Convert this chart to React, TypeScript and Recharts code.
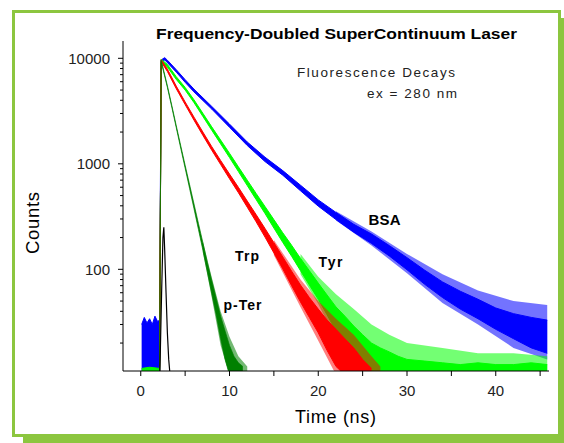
import { Area, ComposedChart, Line, XAxis, YAxis } from "recharts";

const FRAME = "#8cc63f";
const FONT = '"Liberation Sans", Arial, Helvetica, sans-serif';

// axis ticks
const X_TICKS = [0, 5, 10, 15, 20, 25, 30, 35, 40, 45];
const X_LABELED = [0, 10, 20, 30, 40];
const Y_TICKS = [
  20, 30, 40, 50, 60, 70, 80, 90, 100, 200, 300, 400, 500, 600, 700, 800, 900, 1000,
  2000, 3000, 4000, 5000, 6000, 7000, 8000, 9000, 10000,
];
const Y_LABELED = [100, 1000, 10000];

// BSA (blue) - dense part of the noisy trace, low/high edge
const BSA_T = [0.1, 0.4, 0.7, 1.0, 1.3, 1.6, 1.9, 2.12, 2.3, 2.7, 3, 4, 5, 6, 8, 10, 12, 14, 16, 18, 20, 22, 24, 26, 28, 30, 32, 34, 36, 38, 40, 42, 44, 45.8];
const BSA_LO = [10, 10, 10, 10, 10, 10, 10, 10, 9150, 9650, 9100, 7400, 5920, 4800, 3300, 2220, 1490, 1050, 780, 555, 397, 296, 225, 176, 134, 99, 72, 54, 42, 34, 27, 22, 18, 16];
const BSA_HI = [30, 35, 31, 34, 30, 36, 32, 33, 9650, 10150, 9600, 7800, 6280, 5100, 3500, 2380, 1610, 1155, 862, 627, 455, 346, 267, 216, 168, 129, 98, 76, 62, 52, 43, 38, 35, 33];
// BSA spikes (outer envelope of the noise)
const BSA_SPIKE_T = [22, 26, 30, 34, 38, 42, 45.8];
const BSA_SPIKE_LO = [290, 168, 92, 48, 30, 18, 14];
const BSA_SPIKE_HI = [355, 228, 140, 90, 63, 50, 46];

// Tyr (green)
const TYR_T = [0.1, 1.0, 2.12, 2.3, 3, 4, 5, 6, 7, 8, 9, 10, 11, 12, 13, 14, 15, 16, 17, 18, 19, 20, 21, 22, 23, 24, 25, 26, 27, 28, 29, 30, 32, 34, 36, 38, 40, 42, 44, 45.8];
const TYR_LO = [10, 10, 10, 9400, 8250, 6310, 5000, 3800, 2810, 2080, 1545, 1145, 845, 622, 458, 338, 246, 180, 133, 97, 71, 52, 37, 26, 19, 14, 11, 10, 10, 10, 10, 10, 10, 10, 10, 10, 10, 10, 10, 10];
const TYR_HI = [11.5, 11.8, 11.5, 9800, 8750, 6690, 5300, 4040, 3010, 2240, 1680, 1258, 937, 700, 524, 394, 296, 222, 169, 127, 97, 74, 57, 44, 36, 29, 24, 20, 18, 16.5, 15, 14, 13.5, 13, 12.5, 13, 12.5, 12.5, 13, 12.5];
const TYR_SPIKE_T = [18, 20, 22, 24, 26, 28, 30, 34, 38, 42, 45.8];
const TYR_SPIKE_LO = [90, 47, 22, 11, 10, 10, 10, 10, 10, 10, 10];
const TYR_SPIKE_HI = [140, 85, 58, 42, 30, 24, 20, 18, 16, 16, 15];

// Trp (red)
const TRP_T = [2.12, 2.3, 3, 4, 5, 6, 7, 8, 9, 10, 11, 12, 13, 14, 15, 16, 17, 18, 19, 20, 21, 22, 23, 24, 25, 26];
const TRP_LO = [10, 9300, 7500, 5150, 3640, 2590, 1860, 1345, 985, 722, 533, 388, 282, 202, 143, 101, 70, 49, 35, 25, 17, 12, 10, 10, 10, 10];
const TRP_HI = [12, 9700, 7900, 5450, 3860, 2770, 2000, 1455, 1075, 800, 599, 444, 330, 244, 179, 131, 96, 71, 54, 42, 33, 27, 22, 18, 14, 11.5];
const TRP_SPIKE_T = [15, 18, 20, 22, 24, 26, 27];
const TRP_SPIKE_LO = [136, 44, 21, 10, 10, 10, 10];
const TRP_SPIKE_HI = [190, 80, 50, 34, 24, 15, 12];

// p-Ter (dark green)
const PTER_T = [2.12, 2.3, 3, 3.5, 4, 4.5, 5, 5.5, 6, 6.5, 7, 7.5, 8, 8.5, 9, 9.5, 10, 10.5, 11, 11.5];
const PTER_LO = [10, 9300, 5300, 3430, 2200, 1410, 910, 585, 375, 239, 152, 95, 59, 37, 22, 14, 10, 10, 10, 10];
const PTER_HI = [12, 9600, 5500, 3570, 2300, 1490, 970, 636, 416, 272, 179, 116, 78, 53, 36, 26, 19, 15, 13, 12];
const PTER_SPIKE_T = [7, 8, 9, 10, 11, 12];
const PTER_SPIKE_LO = [145, 54, 19, 10, 10, 10];
const PTER_SPIKE_HI = [185, 84, 40, 23, 15, 12];

// instrument response (black)
const IRF_T = [2.15, 2.35, 2.5, 2.6, 2.7, 2.85, 3.0, 3.15, 3.3];
const IRF_V = [10, 60, 200, 250, 150, 60, 25, 14, 10];

const band = (t: number[], lo: number[], hi: number[]) =>
  t.map((x, i) => ({ t: x, v: [lo[i], hi[i]] }));

const bsa = band(BSA_T, BSA_LO, BSA_HI);
const bsaSpikes = band(BSA_SPIKE_T, BSA_SPIKE_LO, BSA_SPIKE_HI);
const tyr = band(TYR_T, TYR_LO, TYR_HI);
const tyrSpikes = band(TYR_SPIKE_T, TYR_SPIKE_LO, TYR_SPIKE_HI);
const trp = band(TRP_T, TRP_LO, TRP_HI);
const trpSpikes = band(TRP_SPIKE_T, TRP_SPIKE_LO, TRP_SPIKE_HI);
const pter = band(PTER_T, PTER_LO, PTER_HI);
const pterSpikes = band(PTER_SPIKE_T, PTER_SPIKE_LO, PTER_SPIKE_HI);
const irf = IRF_T.map((x, i) => ({ t: x, v: IRF_V[i] }));

function XTick({ x, y, payload }: any) {
  return (
    <g>
      <line x1={x} x2={x} y1={y} y2={y + 5} stroke="#000" />
      {X_LABELED.includes(payload.value) && (
        <text x={x} y={y + 25} textAnchor="middle" fontSize={15} fill="#222" fontFamily={FONT}>
          {payload.value}
        </text>
      )}
    </g>
  );
}

function YTick({ x, y, payload }: any) {
  const major = Y_LABELED.includes(payload.value);
  return (
    <g>
      <line x1={x - (major ? 5 : 3)} x2={x} y1={y} y2={y} stroke="#000" />
      {major && (
        <text x={x - 13} y={y + 5.3} textAnchor="end" fontSize={15} fill="#222" fontFamily={FONT}>
          {payload.value}
        </text>
      )}
    </g>
  );
}

export default function App() {
  return (
    <div style={{ position: "absolute", left: 0, top: 0, width: 564, height: 443, background: "#fff", overflow: "hidden" }}>
      <svg width={564} height={443} style={{ position: "absolute", left: 0, top: 0 }}>
        <rect x={23} y={18} width={560} height={440} fill={FRAME} />
        <rect x={13.5} y={11.5} width={546} height={424} fill="#fff" stroke={FRAME} strokeWidth={3} />
      </svg>
      <div style={{ position: "absolute", left: 0, top: 0 }}>
        <ComposedChart width={564} height={443} margin={{ top: 41, right: 15, bottom: 42, left: 63 }}>
          <XAxis
            type="number"
            dataKey="t"
            domain={[-2, 46]}
            ticks={X_TICKS}
            interval={0}
            tick={<XTick />}
            tickSize={0}
            tickMargin={0}
            tickLine={false}
            axisLine={{ stroke: "#000" }}
            height={30}
            allowDataOverflow
          />
          <YAxis
            type="number"
            scale="log"
            domain={[10.87, 14590]}
            ticks={Y_TICKS}
            interval={0}
            tick={<YTick />}
            tickSize={0}
            tickMargin={0}
            tickLine={false}
            axisLine={{ stroke: "#000" }}
            width={60}
            allowDataOverflow
          />
          <Area data={bsaSpikes} dataKey="v" type="linear" fill="#0000ff" fillOpacity={0.55} stroke="none" dot={false} activeDot={false} isAnimationActive={false} />
          <Area data={bsa} dataKey="v" type="linear" fill="#0000ff" fillOpacity={1} stroke="#0000ff" strokeWidth={1} dot={false} activeDot={false} isAnimationActive={false} />
          <Area data={tyrSpikes} dataKey="v" type="linear" fill="#00ff00" fillOpacity={0.55} stroke="none" dot={false} activeDot={false} isAnimationActive={false} />
          <Area data={tyr} dataKey="v" type="linear" fill="#00ff00" fillOpacity={1} stroke="#00ff00" strokeWidth={1} dot={false} activeDot={false} isAnimationActive={false} />
          <Area data={trpSpikes} dataKey="v" type="linear" fill="#ff0000" fillOpacity={0.5} stroke="none" dot={false} activeDot={false} isAnimationActive={false} />
          <Area data={trp} dataKey="v" type="linear" fill="#ff0000" fillOpacity={1} stroke="#ff0000" strokeWidth={1} dot={false} activeDot={false} isAnimationActive={false} />
          <Area data={pterSpikes} dataKey="v" type="linear" fill="#008000" fillOpacity={0.55} stroke="none" dot={false} activeDot={false} isAnimationActive={false} />
          <Area data={pter} dataKey="v" type="linear" fill="#008000" fillOpacity={1} stroke="#008000" strokeWidth={0.7} dot={false} activeDot={false} isAnimationActive={false} />
          <Line data={irf} dataKey="v" type="linear" stroke="#000" strokeWidth={1.2} dot={false} activeDot={false} isAnimationActive={false} />
        </ComposedChart>
      </div>
      <svg width={564} height={443} style={{ position: "absolute", left: 0, top: 0, pointerEvents: "none" }} fontFamily={FONT}>
        <text x={156} y={39} fontSize={14.5} fontWeight="bold" textLength={361} lengthAdjust="spacingAndGlyphs" fill="#000">
          Frequency-Doubled SuperContinuum Laser
        </text>
        <text x={297} y={77.3} fontSize={13.5} textLength={158} lengthAdjust="spacing" fill="#222">
          Fluorescence Decays
        </text>
        <text x={367} y={98.3} fontSize={13.5} textLength={90} lengthAdjust="spacing" fill="#222">
          ex = 280 nm
        </text>
        <text x={368.5} y={224.5} fontSize={15} fontWeight="bold" textLength={32} fill="#000">BSA</text>
        <text x={235} y={260.5} fontSize={14} fontWeight="bold" textLength={24} fill="#000">Trp</text>
        <text x={318.5} y={266.5} fontSize={14} fontWeight="bold" textLength={24} fill="#000">Tyr</text>
        <text x={223.5} y={310} fontSize={14} fontWeight="bold" textLength={38} fill="#000">p-Ter</text>
        <text x={295} y={423.3} fontSize={18} textLength={81} lengthAdjust="spacing" fill="#000">Time (ns)</text>
        <text x={39} y={223} transform="rotate(-90 39 223)" textAnchor="middle" fontSize={18.5} textLength={62} lengthAdjust="spacing" fill="#000">
          Counts
        </text>
      </svg>
    </div>
  );
}
